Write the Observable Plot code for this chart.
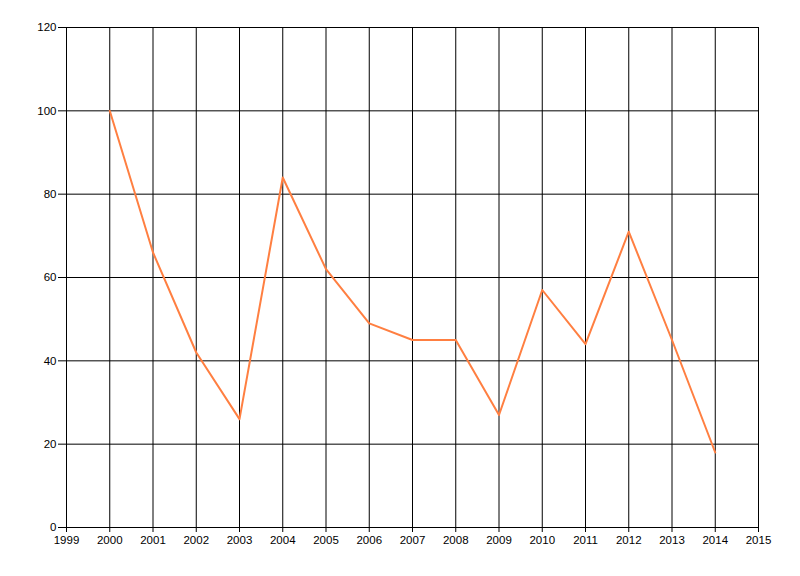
<!DOCTYPE html>
<html>
<head>
<meta charset="utf-8">
<script src="https://cdn.jsdelivr.net/npm/d3@7"></script>
<script src="https://cdn.jsdelivr.net/npm/@observablehq/plot@0.6"></script>
<style>
  html, body { margin: 0; padding: 0; background: #fff; }
  #chart svg { display: block; }
</style>
</head>
<body>
<div id="chart"></div>
<script>
const years = [2000, 2001, 2002, 2003, 2004, 2005, 2006, 2007, 2008, 2009, 2010, 2011, 2012, 2013, 2014];
const values = [100, 66, 42, 26, 84, 62, 49, 45, 45, 27, 57, 44, 71, 45, 18];
const xTicks = [1999, 2000, 2001, 2002, 2003, 2004, 2005, 2006, 2007, 2008, 2009, 2010, 2011, 2012, 2013, 2014, 2015];
const yTicks = [0, 20, 40, 60, 80, 100, 120];

const data = years.map((year, i) => ({year, value: values[i]}));

const chart = Plot.plot({
  width: 800,
  height: 576,
  marginLeft: 66,
  marginRight: 42,
  marginTop: 27,
  marginBottom: 49,
  style: {fontFamily: "'Liberation Sans', Arial, sans-serif", fontSize: "11.5px", color: "#000", background: "#fff"},
  x: {domain: [1999, 2015]},
  y: {domain: [0, 120]},
  marks: [
    Plot.gridX(xTicks, {stroke: "#000", strokeOpacity: 1, strokeWidth: 1}),
    Plot.gridY(yTicks, {stroke: "#000", strokeOpacity: 1, strokeWidth: 1}),
    Plot.axisX(xTicks, {tickSize: 5, tickPadding: 3, tickFormat: d => String(d), label: null, stroke: "#000", fill: "#000"}),
    Plot.axisY(yTicks, {tickSize: 8, tickPadding: 2, label: null, stroke: "#000", fill: "#000"}),
    Plot.line(data, {x: "year", y: "value", stroke: "#ff7f41", strokeWidth: 2})
  ]
});
document.getElementById("chart").appendChild(chart);
</script>
</body>
</html>
